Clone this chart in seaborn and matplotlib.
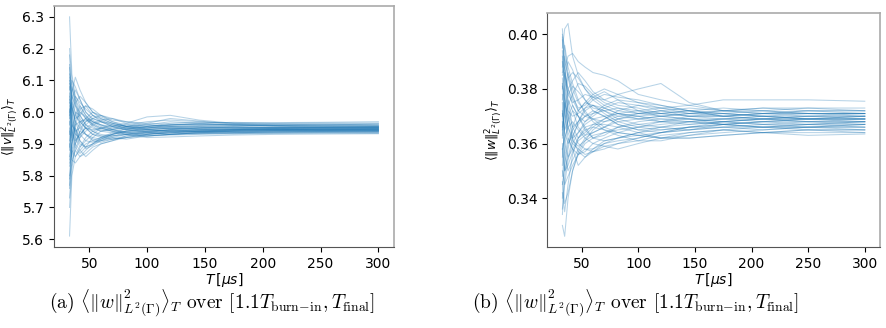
import numpy as np
import pandas as pd
import matplotlib
matplotlib.use("Agg")
import matplotlib.pyplot as plt
import seaborn as sns

T_grid = [33, 35, 38, 42, 47, 53, 60, 70, 82, 100, 120, 145, 175, 210, 250, 300]

# panel (a): running average of ||v||^2, one row per run
v_runs = [
    [6.30, 6.12, 6.05, 6.02, 5.99, 5.97, 5.96, 5.955, 5.95, 5.945, 5.95, 5.948, 5.945, 5.947, 5.946, 5.948],
    [5.61, 5.80, 5.86, 5.88, 5.90, 5.91, 5.92, 5.925, 5.93, 5.935, 5.94, 5.938, 5.94, 5.942, 5.943, 5.944],
    [6.20, 6.10, 6.08, 6.04, 6.00, 5.98, 5.97, 5.96, 5.955, 5.96, 5.955, 5.958, 5.955, 5.952, 5.953, 5.955],
    [5.73, 5.85, 5.88, 5.86, 5.87, 5.89, 5.90, 5.91, 5.92, 5.925, 5.93, 5.935, 5.932, 5.935, 5.936, 5.938],
    [6.10, 6.06, 6.11, 6.07, 6.03, 6.00, 5.99, 5.975, 5.97, 5.965, 5.962, 5.96, 5.958, 5.96, 5.962, 5.96],
    [5.85, 5.95, 5.99, 6.02, 5.99, 5.96, 5.945, 5.94, 5.935, 5.94, 5.942, 5.945, 5.943, 5.945, 5.944, 5.946],
    [5.95, 5.88, 5.92, 5.96, 5.98, 6.00, 5.985, 5.97, 5.96, 5.95, 5.948, 5.95, 5.952, 5.95, 5.951, 5.952],
    [6.05, 5.99, 5.94, 5.90, 5.89, 5.90, 5.91, 5.92, 5.915, 5.925, 5.93, 5.935, 5.938, 5.94, 5.94, 5.941],
    [5.80, 5.90, 5.96, 5.97, 5.95, 5.93, 5.92, 5.93, 5.94, 5.945, 5.95, 5.955, 5.957, 5.958, 5.96, 5.962],
    [6.00, 6.03, 6.00, 5.96, 5.93, 5.91, 5.905, 5.915, 5.925, 5.93, 5.935, 5.94, 5.945, 5.944, 5.946, 5.947],
    [5.90, 5.85, 5.84, 5.86, 5.88, 5.90, 5.92, 5.935, 5.94, 5.945, 5.94, 5.938, 5.936, 5.935, 5.934, 5.933],
    [6.15, 6.05, 6.02, 6.00, 5.985, 5.97, 5.96, 5.95, 5.96, 5.97, 5.975, 5.97, 5.965, 5.967, 5.968, 5.97],
    [5.77, 5.92, 6.00, 5.99, 5.96, 5.95, 5.94, 5.935, 5.93, 5.925, 5.928, 5.93, 5.932, 5.933, 5.935, 5.936],
    [6.08, 5.97, 5.93, 5.92, 5.94, 5.96, 5.97, 5.965, 5.955, 5.96, 5.97, 5.965, 5.96, 5.955, 5.954, 5.953],
    [5.88, 6.00, 6.05, 6.03, 6.01, 5.99, 5.975, 5.96, 5.95, 5.945, 5.94, 5.942, 5.944, 5.945, 5.946, 5.945],
    [6.02, 5.93, 5.89, 5.87, 5.89, 5.92, 5.94, 5.95, 5.945, 5.935, 5.93, 5.935, 5.94, 5.942, 5.943, 5.944],
    [5.93, 6.04, 6.07, 6.04, 6.00, 5.975, 5.96, 5.945, 5.935, 5.93, 5.935, 5.94, 5.945, 5.948, 5.95, 5.95],
    [6.12, 6.08, 6.03, 5.98, 5.95, 5.93, 5.925, 5.93, 5.94, 5.95, 5.96, 5.963, 5.96, 5.958, 5.957, 5.956],
    [5.83, 5.87, 5.91, 5.94, 5.93, 5.915, 5.91, 5.915, 5.92, 5.93, 5.935, 5.933, 5.935, 5.938, 5.94, 5.94],
    [5.98, 6.06, 6.02, 5.97, 5.95, 5.945, 5.95, 5.955, 5.965, 5.985, 5.99, 5.975, 5.965, 5.96, 5.958, 5.957],
    [6.06, 5.95, 5.90, 5.88, 5.86, 5.88, 5.90, 5.91, 5.925, 5.935, 5.945, 5.94, 5.943, 5.946, 5.948, 5.949],
    [5.91, 5.96, 5.94, 5.95, 5.97, 5.98, 5.97, 5.955, 5.945, 5.94, 5.945, 5.95, 5.953, 5.952, 5.95, 5.951],
    [6.18, 6.02, 5.97, 5.95, 5.93, 5.92, 5.915, 5.92, 5.93, 5.935, 5.938, 5.94, 5.937, 5.938, 5.939, 5.939],
    [5.70, 5.82, 5.90, 5.93, 5.95, 5.965, 5.975, 5.98, 5.97, 5.96, 5.955, 5.952, 5.95, 5.948, 5.947, 5.947],
    [6.03, 6.01, 5.98, 5.99, 6.02, 6.01, 5.99, 5.97, 5.955, 5.945, 5.948, 5.946, 5.945, 5.944, 5.943, 5.943],
    [5.86, 5.90, 5.95, 5.91, 5.89, 5.90, 5.915, 5.93, 5.95, 5.955, 5.96, 5.965, 5.968, 5.965, 5.966, 5.966],
    [5.96, 6.08, 6.04, 6.01, 5.98, 5.96, 5.95, 5.94, 5.93, 5.92, 5.922, 5.925, 5.928, 5.93, 5.931, 5.932],
    [6.01, 5.91, 5.93, 5.97, 5.98, 5.97, 5.955, 5.945, 5.95, 5.955, 5.95, 5.945, 5.948, 5.95, 5.952, 5.954],
    [5.94, 5.86, 5.90, 5.94, 5.97, 5.99, 5.98, 5.965, 5.955, 5.95, 5.955, 5.952, 5.95, 5.949, 5.95, 5.95],
    [6.07, 6.10, 6.04, 5.99, 5.96, 5.94, 5.93, 5.925, 5.93, 5.94, 5.943, 5.942, 5.94, 5.941, 5.942, 5.942],
    [5.79, 5.84, 5.88, 5.92, 5.96, 5.98, 5.99, 5.98, 5.965, 5.955, 5.96, 5.962, 5.96, 5.958, 5.956, 5.956],
    [6.14, 5.98, 5.92, 5.89, 5.91, 5.93, 5.95, 5.96, 5.95, 5.94, 5.935, 5.938, 5.942, 5.944, 5.945, 5.945],
    [5.89, 5.98, 6.03, 6.05, 6.03, 6.00, 5.98, 5.965, 5.955, 5.95, 5.952, 5.955, 5.953, 5.951, 5.95, 5.949],
    [6.04, 5.94, 5.91, 5.93, 5.95, 5.94, 5.925, 5.915, 5.92, 5.93, 5.94, 5.945, 5.947, 5.946, 5.944, 5.943],
    [5.76, 5.89, 5.97, 6.01, 6.02, 5.99, 5.97, 5.955, 5.945, 5.95, 5.958, 5.96, 5.962, 5.96, 5.96, 5.959],
    [5.99, 6.02, 5.97, 5.93, 5.91, 5.905, 5.915, 5.93, 5.94, 5.935, 5.93, 5.932, 5.935, 5.937, 5.938, 5.937],
    [6.09, 6.04, 5.99, 5.97, 5.975, 5.965, 5.95, 5.94, 5.945, 5.955, 5.965, 5.968, 5.966, 5.964, 5.963, 5.964],
    [5.84, 5.88, 5.86, 5.89, 5.92, 5.94, 5.95, 5.945, 5.935, 5.925, 5.93, 5.937, 5.94, 5.941, 5.94, 5.941],
    [5.97, 5.92, 5.96, 6.00, 5.98, 5.955, 5.94, 5.945, 5.955, 5.965, 5.98, 5.972, 5.962, 5.956, 5.953, 5.952],
    [6.11, 6.01, 5.95, 5.91, 5.885, 5.895, 5.91, 5.925, 5.935, 5.94, 5.945, 5.949, 5.95, 5.952, 5.953, 5.953],
]

# panel (b): running average of ||w||^2
w_runs = [
    [0.400, 0.395, 0.385, 0.378, 0.372, 0.370, 0.371, 0.372, 0.370, 0.369, 0.370, 0.371, 0.370, 0.369, 0.370, 0.370],
    [0.330, 0.326, 0.340, 0.350, 0.356, 0.360, 0.362, 0.364, 0.366, 0.367, 0.366, 0.365, 0.366, 0.367, 0.366, 0.366],
    [0.395, 0.402, 0.404, 0.392, 0.385, 0.380, 0.377, 0.374, 0.372, 0.371, 0.372, 0.371, 0.372, 0.373, 0.372, 0.372],
    [0.340, 0.355, 0.362, 0.358, 0.352, 0.355, 0.358, 0.361, 0.362, 0.363, 0.362, 0.362, 0.363, 0.364, 0.364, 0.364],
    [0.385, 0.388, 0.392, 0.393, 0.390, 0.388, 0.386, 0.385, 0.383, 0.378, 0.376, 0.374, 0.372, 0.371, 0.370, 0.370],
    [0.370, 0.380, 0.386, 0.380, 0.375, 0.372, 0.368, 0.365, 0.364, 0.366, 0.368, 0.369, 0.368, 0.367, 0.368, 0.368],
    [0.360, 0.350, 0.355, 0.362, 0.368, 0.373, 0.376, 0.378, 0.377, 0.376, 0.374, 0.372, 0.371, 0.370, 0.369, 0.369],
    [0.378, 0.370, 0.362, 0.358, 0.356, 0.357, 0.360, 0.362, 0.364, 0.363, 0.362, 0.363, 0.364, 0.365, 0.366, 0.367],
    [0.392, 0.384, 0.378, 0.375, 0.376, 0.378, 0.377, 0.376, 0.378, 0.380, 0.382, 0.375, 0.372, 0.372, 0.371, 0.371],
    [0.365, 0.372, 0.378, 0.381, 0.379, 0.376, 0.373, 0.372, 0.373, 0.372, 0.373, 0.374, 0.376, 0.376, 0.376, 0.3755],
    [0.350, 0.345, 0.348, 0.352, 0.356, 0.358, 0.357, 0.358, 0.360, 0.362, 0.364, 0.365, 0.366, 0.366, 0.365, 0.365],
    [0.398, 0.390, 0.376, 0.366, 0.362, 0.364, 0.367, 0.369, 0.371, 0.372, 0.371, 0.370, 0.369, 0.369, 0.368, 0.369],
    [0.355, 0.366, 0.374, 0.378, 0.382, 0.381, 0.378, 0.375, 0.373, 0.371, 0.370, 0.371, 0.371, 0.372, 0.373, 0.373],
    [0.375, 0.360, 0.355, 0.358, 0.362, 0.365, 0.366, 0.365, 0.363, 0.361, 0.361, 0.363, 0.365, 0.366, 0.367, 0.366],
    [0.388, 0.396, 0.388, 0.382, 0.376, 0.371, 0.369, 0.368, 0.369, 0.370, 0.369, 0.368, 0.367, 0.366, 0.367, 0.368],
    [0.345, 0.352, 0.360, 0.365, 0.368, 0.370, 0.372, 0.370, 0.367, 0.365, 0.366, 0.367, 0.368, 0.369, 0.370, 0.371],
    [0.382, 0.376, 0.370, 0.364, 0.360, 0.358, 0.358, 0.360, 0.361, 0.362, 0.364, 0.366, 0.367, 0.368, 0.369, 0.369],
    [0.362, 0.374, 0.380, 0.376, 0.372, 0.375, 0.378, 0.380, 0.378, 0.375, 0.374, 0.372, 0.370, 0.371, 0.372, 0.371],
    [0.372, 0.365, 0.368, 0.372, 0.370, 0.366, 0.362, 0.361, 0.362, 0.364, 0.366, 0.368, 0.369, 0.368, 0.367, 0.367],
    [0.336, 0.345, 0.354, 0.360, 0.364, 0.367, 0.369, 0.370, 0.371, 0.370, 0.368, 0.367, 0.368, 0.369, 0.368, 0.368],
    [0.390, 0.380, 0.372, 0.370, 0.371, 0.373, 0.374, 0.373, 0.371, 0.370, 0.371, 0.372, 0.371, 0.370, 0.370, 0.369],
    [0.358, 0.362, 0.366, 0.368, 0.365, 0.362, 0.360, 0.359, 0.358, 0.360, 0.362, 0.364, 0.365, 0.364, 0.365, 0.364],
    [0.380, 0.386, 0.380, 0.374, 0.370, 0.368, 0.370, 0.373, 0.375, 0.374, 0.372, 0.370, 0.370, 0.371, 0.371, 0.370],
    [0.368, 0.356, 0.350, 0.354, 0.358, 0.362, 0.364, 0.366, 0.368, 0.369, 0.370, 0.369, 0.367, 0.366, 0.366, 0.367],
    [0.352, 0.368, 0.376, 0.372, 0.366, 0.363, 0.364, 0.366, 0.369, 0.371, 0.372, 0.373, 0.372, 0.371, 0.372, 0.372],
    [0.384, 0.372, 0.364, 0.360, 0.358, 0.356, 0.357, 0.359, 0.360, 0.361, 0.363, 0.364, 0.365, 0.364, 0.363, 0.3635],
    [0.366, 0.378, 0.384, 0.386, 0.384, 0.380, 0.376, 0.373, 0.371, 0.369, 0.368, 0.368, 0.369, 0.370, 0.369, 0.370],
    [0.346, 0.338, 0.342, 0.350, 0.357, 0.361, 0.363, 0.364, 0.365, 0.366, 0.367, 0.368, 0.367, 0.368, 0.369, 0.368],
    [0.402, 0.388, 0.372, 0.366, 0.368, 0.372, 0.374, 0.372, 0.369, 0.367, 0.368, 0.370, 0.371, 0.370, 0.369, 0.369],
    [0.334, 0.348, 0.358, 0.366, 0.372, 0.375, 0.374, 0.371, 0.368, 0.366, 0.365, 0.366, 0.367, 0.366, 0.366, 0.365],
    [0.376, 0.384, 0.390, 0.387, 0.381, 0.376, 0.372, 0.370, 0.367, 0.365, 0.364, 0.365, 0.367, 0.368, 0.368, 0.367],
    [0.358, 0.350, 0.352, 0.357, 0.361, 0.363, 0.366, 0.369, 0.372, 0.374, 0.373, 0.371, 0.372, 0.373, 0.373, 0.372],
    [0.394, 0.378, 0.366, 0.362, 0.364, 0.368, 0.371, 0.374, 0.376, 0.375, 0.373, 0.372, 0.370, 0.369, 0.369, 0.370],
    [0.363, 0.375, 0.370, 0.362, 0.357, 0.355, 0.357, 0.360, 0.362, 0.364, 0.365, 0.366, 0.366, 0.365, 0.366, 0.366],
    [0.386, 0.392, 0.384, 0.377, 0.373, 0.374, 0.377, 0.379, 0.376, 0.372, 0.370, 0.369, 0.369, 0.370, 0.371, 0.371],
    [0.348, 0.358, 0.370, 0.374, 0.370, 0.365, 0.362, 0.363, 0.366, 0.368, 0.369, 0.369, 0.368, 0.367, 0.367, 0.368],
    [0.371, 0.364, 0.360, 0.363, 0.367, 0.370, 0.369, 0.366, 0.364, 0.363, 0.364, 0.366, 0.368, 0.369, 0.369, 0.369],
    [0.399, 0.385, 0.380, 0.383, 0.386, 0.383, 0.379, 0.376, 0.374, 0.373, 0.371, 0.370, 0.370, 0.371, 0.371, 0.371],
    [0.342, 0.335, 0.345, 0.356, 0.362, 0.366, 0.367, 0.367, 0.366, 0.364, 0.362, 0.362, 0.363, 0.364, 0.365, 0.365],
    [0.381, 0.374, 0.366, 0.361, 0.359, 0.361, 0.365, 0.368, 0.370, 0.371, 0.371, 0.372, 0.373, 0.372, 0.371, 0.371],
]


def to_long(runs):
    rows = []
    for i, r in enumerate(runs):
        for t, val in zip(T_grid, r):
            rows.append((i, t, val))
    return pd.DataFrame(rows, columns=["run", "T", "val"])


fig = plt.figure(figsize=(8.87, 3.28), dpi=100)
ax1 = fig.add_axes([0.061, 0.247, 0.383, 0.735])
ax2 = fig.add_axes([0.617, 0.247, 0.375, 0.714])

panels = [
    (ax1, v_runs, r"$\langle \|v\|^2_{L^2(\Gamma)}\rangle_T$"),
    (ax2, w_runs, r"$\langle \|w\|^2_{L^2(\Gamma)}\rangle_T$"),
]

for ax, runs, ylab in panels:
    sns.lineplot(data=to_long(runs), x="T", y="val", units="run", estimator=None,
                 color="#1f77b4", alpha=0.32, linewidth=0.75, ax=ax)
    ax.set_xlabel(r"$T\,[\mu s]$", fontsize=10, labelpad=0)
    ax.set_ylabel(ylab, fontsize=9, labelpad=1)
    ax.set_xticks([50, 100, 150, 200, 250, 300])
    ax.tick_params(labelsize=10)
    for side in ["top", "right"]:
        ax.spines[side].set_color("#aaaaaa")
        ax.spines[side].set_linewidth(1.2)
    for side in ["left", "bottom"]:
        ax.spines[side].set_color("#555555")

ax2.set_yticks([0.34, 0.36, 0.38, 0.40])
ax2.set_yticklabels(["0.34", "0.36", "0.38", "0.40"])

cap = r"$\langle\|w\|^2_{L^2(\Gamma)}\rangle_T$ over $[1.1T_{\mathrm{burn\!-\!in}}, T_{\mathrm{final}}]$"
fig.text(0.239, 0.075, "(a) " + cap, ha="center", va="center", fontsize=14,
         family="cmr10", math_fontfamily="cm")
fig.text(0.716, 0.075, "(b) " + cap, ha="center", va="center", fontsize=14,
         family="cmr10", math_fontfamily="cm")

fig.savefig("out.png", dpi=100)
